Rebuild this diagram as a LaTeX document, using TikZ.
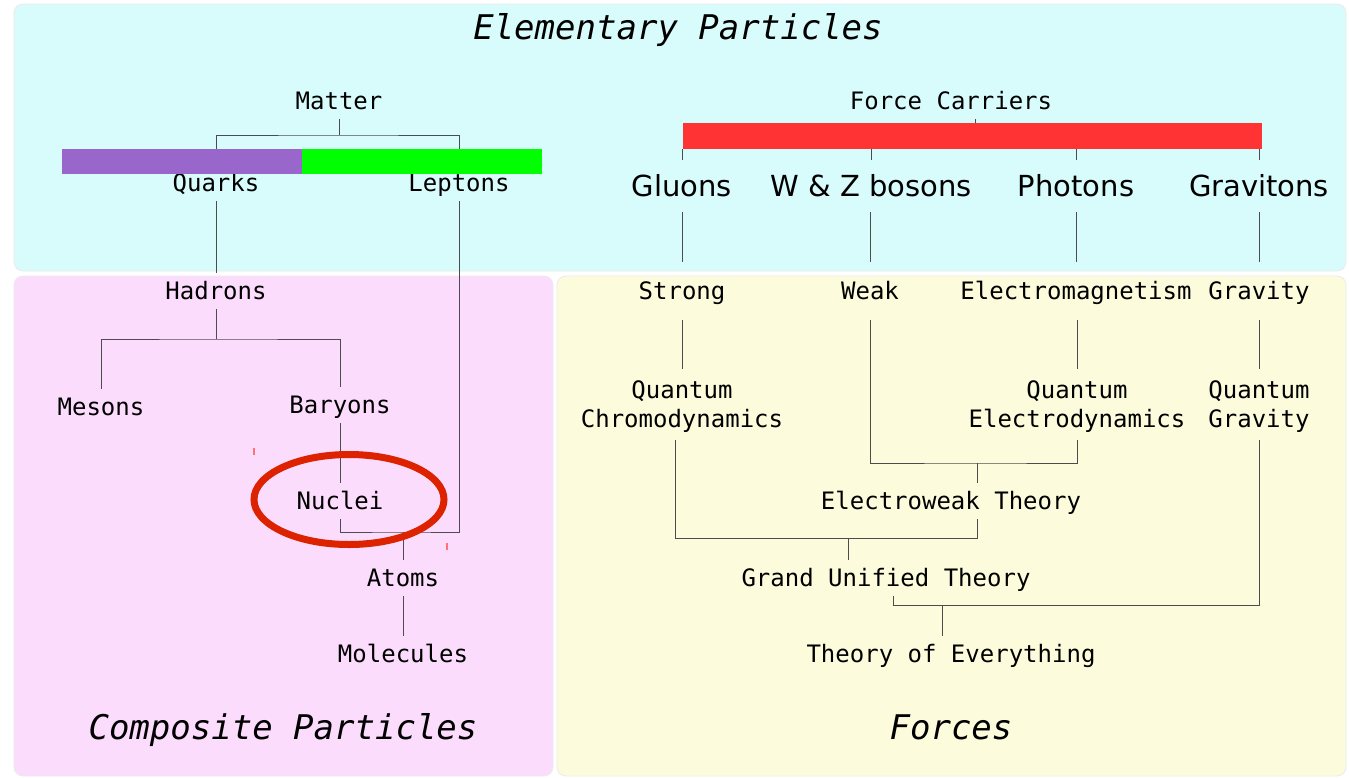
\documentclass[tikz,border=0pt]{standalone}
\usepackage{fontspec}
\setmainfont{DejaVu Sans Mono}
\newfontfamily\carrierfont{DejaVu Sans}
\definecolor{skycyan}{RGB}{216,252,252}
\definecolor{softpink}{RGB}{252,220,252}
\definecolor{softyellow}{RGB}{252,252,220}
\definecolor{quarkviolet}{RGB}{153,102,204}
\definecolor{leptongreen}{RGB}{0,255,0}
\definecolor{carrierred}{RGB}{255,51,51}
\definecolor{ringred}{RGB}{221,34,0}
\begin{document}
\begin{tikzpicture}[x=1pt, y=-1pt,
  panel/.style={draw=black!8, line width=0.8pt, rounded corners=9pt},
  lbl/.style={font=\fontsize{24}{29}\selectfont, inner sep=0pt, minimum height=36pt, align=center,
    text height=21.5pt, text depth=4pt},
  force/.style={lbl, minimum height=58pt},
  theory/.style={lbl, minimum height=70pt, text height=50.5pt},
  carrier/.style={font=\carrierfont\fontsize{29}{34}\selectfont, inner sep=0pt, minimum height=52pt,
    text height=27pt, text depth=5.8pt},
  title/.style={font=\itshape\fontsize{34}{40}\selectfont, inner sep=0pt, text height=30pt, text depth=5.2pt},
  bar/.style={inner sep=0pt, minimum height=25pt},
  link/.style={draw=black!70, line width=1pt},
  hilite/.style={draw=ringred, line width=7pt},
  speck/.style={draw=red!55, line width=1.6pt},
]
\useasboundingbox[fill=white] (0,0) rectangle (1349,777);

% ---------------------------------------------------------------- panels
\draw[panel, fill=skycyan] (14,4) rectangle (1346,271);
\draw[panel, fill=softpink] (14,276) rectangle (553,776);
\draw[panel, fill=softyellow] (557,276) rectangle (1346,776);

\node[title] (elem) at (678,27) {Elementary Particles};
\node[title] (comp) at (283,727) {Composite Particles};
\node[title] (forces) at (951,727) {Forces};

% ---------------------------------------------------------------- matter
\node[lbl] (matter) at (339,101) {Matter};
\node[lbl] (quarks) at (216,183) {Quarks};
\node[lbl] (leptons) at (459,183) {Leptons};
\node[lbl] (hadrons) at (216,291) {Hadrons};
\node[lbl] (mesons) at (101,407) {Mesons};
\node[lbl] (baryons) at (340,405) {Baryons};
\node[lbl] (nuclei) at (340,501) {Nuclei};
\node[lbl] (atoms) at (403,578) {Atoms};
\node[lbl] (molecules) at (403,654) {Molecules};

\coordinate (mj) at (339,135);
\coordinate (hj) at (216,339);
\coordinate (nj) at (403,532);
\draw[link] (matter.south) -- (mj);
\draw[link] (quarks.north) |- (mj) -| (leptons.north);
\draw[link] (quarks.south) -- (hadrons.north);
\draw[link] (hadrons.south) -- (hj);
\draw[link] (mesons.north) |- (hj) -| (baryons.north);
\draw[link] (baryons.south) -- (nuclei.north);
\draw[link] (nuclei.south) |- (nj) -| (leptons.south);
\draw[link] (nj) -- (atoms.north);
\draw[link] (atoms.south) -- (molecules.north);

\node[bar, fill=quarkviolet, minimum width=240pt] (qbar) at (182,161.5) {};
\node[bar, fill=leptongreen, minimum width=240pt] (lbar) at (422,161.5) {};

% ---------------------------------------------------------------- force carriers
\node[lbl] (fc) at (951,101) {Force Carriers};
\node[bar, fill=carrierred, minimum width=579pt, minimum height=26pt] (fcbar) at (972.5,136) {};
\draw[link] ([xshift=24pt]fc.south) -- ([xshift=24pt]fc.south |- fcbar.north);

\node[carrier] (gluons) at (682,186) {Gluons};
\node[carrier] (wz) at (871,186) {W \& Z bosons};
\node[carrier] (photons) at (1076,186) {Photons};
\node[carrier] (gravitons) at (1259,186) {Gravitons};
\foreach \c in {gluons,wz,photons,gravitons}
  \draw[link] (fcbar.south -| \c.north) -- (\c.north);

% ---------------------------------------------------------------- forces
\node[force] (strong) at (682,291) {Strong};
\node[force] (weak) at (870,291) {Weak};
\node[force] (em) at (1076,291) {Electromagnetism};
\node[force] (gravity) at (1259,291) {Gravity};
\draw[link] (gluons.south) -- (strong.north);
\draw[link] (wz.south -| weak.north) -- (weak.north);
\draw[link] (photons.south) -- (em.north);
\draw[link] (gravitons.south) -- (gravity.north);

\node[theory] (qcd) at (682,404.5) {Quantum\\Chromodynamics};
\node[theory] (qed) at (1077,404.5) {Quantum\\Electrodynamics};
\node[theory] (qg) at (1259,404.5) {Quantum\\Gravity};
\draw[link] (strong.south) -- (qcd.north);
\draw[link] (em.south -| qed.north) -- (qed.north);
\draw[link] (gravity.south) -- (qg.north);

\node[lbl] (ew) at (951,501) {Electroweak Theory};
\node[lbl] (gut) at (886,578) {Grand Unified Theory};
\node[lbl] (toe) at (951,654) {Theory of Everything};

\coordinate (ewj) at (977,463);
\coordinate (gutj) at (848,538);
\coordinate (toej) at (942,605);
\draw[link] (weak.south) |- (ewj) -| (qed.south);
\draw[link] (ewj) -- (ewj |- ew.north);
\draw[link] ([xshift=-7pt]qcd.south) |- (gutj) -| (ewj |- ew.south);
\draw[link] (gutj) -- (gutj |- gut.north);
\draw[link] ([xshift=7pt]gut.south) |- (toej) -| (qg.south);
\draw[link] (toej) -- (toej |- toe.north);

% ---------------------------------------------------------------- highlight
\draw[hilite] ([xshift=9pt,yshift=1.5pt]nuclei.center) ellipse [x radius=95pt, y radius=45pt];
\draw[speck] (254,448) -- (254,455);
\draw[speck] (447,543) -- (447,550);
\end{tikzpicture}
\end{document}
